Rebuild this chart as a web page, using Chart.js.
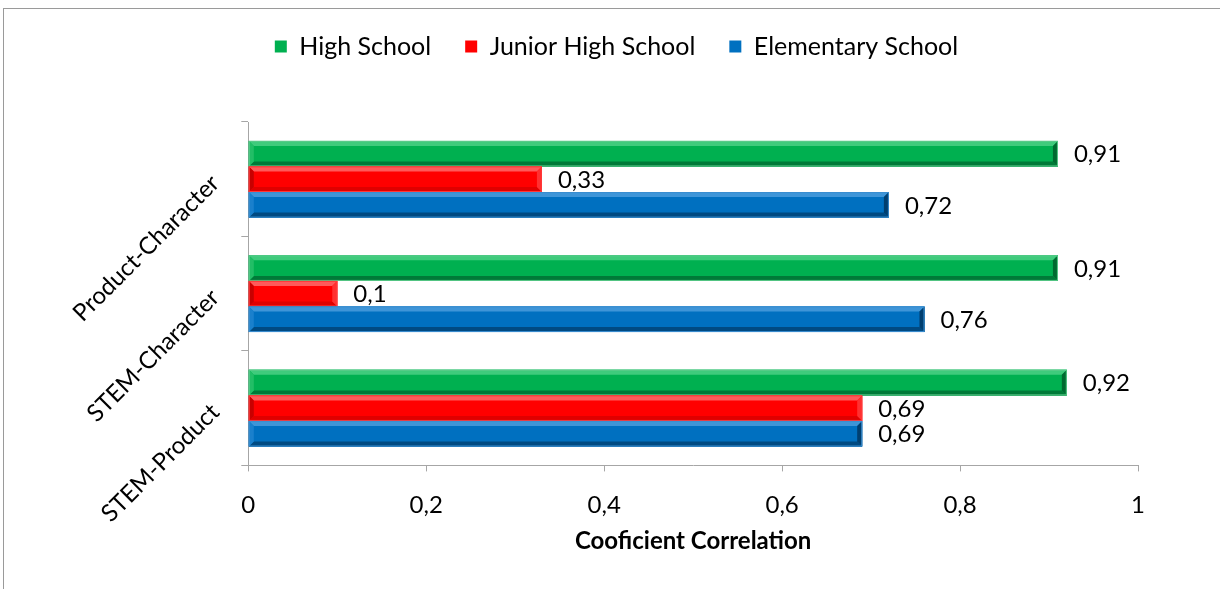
<!DOCTYPE html>
<html>
<head>
<meta charset="utf-8">
<script src="https://cdn.jsdelivr.net/npm/chart.js@4/dist/chart.umd.min.js"></script>
<style>
  html, body { margin: 0; padding: 0; background: #ffffff; }
  #wrap { width: 1220px; height: 589px; }
</style>
</head>
<body>
<div id="wrap"><canvas id="chart" width="1220" height="589"></canvas></div>
<script>
// Correlation pairs, listed top to bottom
const categories = ['Product-Character', 'STEM-Character', 'STEM-Product'];

// Correlation coefficient per school level
const highSchool = [0.91, 0.91, 0.92];
const juniorHighSchool = [0.33, 0.1, 0.69];
const elementarySchool = [0.72, 0.76, 0.69];

const seriesNames = ['High School', 'Junior High School', 'Elementary School'];
const xTickLabels = ['0', '0,2', '0,4', '0,6', '0,8', '1'];

const FONT = 'Lato, "Liberation Sans", sans-serif';
const FONT_SIZE = 24;
const LEGEND_FONT_SIZE = 25;
const LEGEND_HEIGHT = 122;
const LEGEND_SHIFT = 32;

// Shading for the bevelled bars: face, light edge, dark edge, outline
const bevelColors = [
  { face: '#00B050', light: '#3FCB7C', left: '#22BE66', dark: '#007A38', right: '#006A30', line: '#5ACB8A' },
  { face: '#FF0000', light: '#FF5A5A', left: '#C80000', dark: '#E00000', right: '#FF3030', line: '#FF3A3A' },
  { face: '#0070C0', light: '#3E95D8', left: '#1A80CC', dark: '#004A82', right: '#003F70', line: '#3A8ED0' }
];

function fmt(v) {
  return String(v).replace('.', ',');
}

// Fixed legend block height, and the legend row nudged to the right
const legendLayoutPlugin = {
  id: 'legendLayout',
  beforeInit(chart) {
    const legend = chart.legend;
    if (!legend) return;
    const fit = legend.fit;
    legend.fit = function () {
      fit.call(this);
      this.height = LEGEND_HEIGHT;
    };
  },
  afterLayout(chart) {
    const legend = chart.legend;
    if (!legend) return;
    legend.left += LEGEND_SHIFT;
    legend.right += LEGEND_SHIFT;
  }
};

// Frame around the whole chart
const framePlugin = {
  id: 'frame',
  beforeDraw(chart) {
    const ctx = chart.ctx;
    ctx.save();
    ctx.fillStyle = '#ffffff';
    ctx.fillRect(0, 0, chart.width, chart.height);
    ctx.strokeStyle = '#9a9a9a';
    ctx.lineWidth = 1;
    ctx.strokeRect(3.5, 8.5, chart.width + 20, chart.height + 20);
    ctx.restore();
  }
};

// Bevel shading on each bar, using the bar elements laid out by the scales
const bevelPlugin = {
  id: 'bevel',
  afterDatasetsDraw(chart) {
    const ctx = chart.ctx;
    chart.data.datasets.forEach((ds, di) => {
      const meta = chart.getDatasetMeta(di);
      const c = bevelColors[di];
      meta.data.forEach((bar) => {
        const x0 = Math.min(bar.base, bar.x);
        const x1 = Math.max(bar.base, bar.x);
        const y0 = bar.y - bar.height / 2;
        const y1 = bar.y + bar.height / 2;
        const w = x1 - x0;
        const h = y1 - y0;
        const b = Math.min(5, w / 2, h / 2);
        ctx.save();
        ctx.fillStyle = c.face;
        ctx.fillRect(x0, y0, w, h);
        // top edge
        ctx.fillStyle = c.light;
        ctx.beginPath();
        ctx.moveTo(x0, y0); ctx.lineTo(x1, y0); ctx.lineTo(x1 - b, y0 + b); ctx.lineTo(x0 + b, y0 + b);
        ctx.closePath(); ctx.fill();
        // bottom edge
        ctx.fillStyle = c.dark;
        ctx.beginPath();
        ctx.moveTo(x0, y1); ctx.lineTo(x1, y1); ctx.lineTo(x1 - b, y1 - b); ctx.lineTo(x0 + b, y1 - b);
        ctx.closePath(); ctx.fill();
        // left edge
        ctx.fillStyle = c.left;
        ctx.beginPath();
        ctx.moveTo(x0, y0); ctx.lineTo(x0 + b, y0 + b); ctx.lineTo(x0 + b, y1 - b); ctx.lineTo(x0, y1);
        ctx.closePath(); ctx.fill();
        // right edge
        ctx.fillStyle = c.right;
        ctx.beginPath();
        ctx.moveTo(x1, y0); ctx.lineTo(x1 - b, y0 + b); ctx.lineTo(x1 - b, y1 - b); ctx.lineTo(x1, y1);
        ctx.closePath(); ctx.fill();
        // outline
        ctx.strokeStyle = c.line;
        ctx.lineWidth = 1;
        ctx.strokeRect(x0 + 0.5, y0 + 0.5, w - 1, h - 1);
        ctx.restore();
      });
    });
  }
};

// Value labels to the right of each bar
const valueLabelPlugin = {
  id: 'valueLabels',
  afterDatasetsDraw(chart) {
    const ctx = chart.ctx;
    ctx.save();
    ctx.font = FONT_SIZE + 'px ' + FONT;
    ctx.fillStyle = '#000000';
    ctx.textAlign = 'left';
    ctx.textBaseline = 'middle';
    chart.data.datasets.forEach((ds, di) => {
      const meta = chart.getDatasetMeta(di);
      meta.data.forEach((bar, i) => {
        ctx.fillText(fmt(ds.data[i]), bar.x + 16, bar.y + 1);
      });
    });
    ctx.restore();
  }
};

new Chart(document.getElementById('chart'), {
  type: 'bar',
  data: {
    labels: categories,
    datasets: [
      { label: seriesNames[0], data: highSchool, backgroundColor: bevelColors[0].face },
      { label: seriesNames[1], data: juniorHighSchool, backgroundColor: bevelColors[1].face },
      { label: seriesNames[2], data: elementarySchool, backgroundColor: bevelColors[2].face }
    ]
  },
  options: {
    indexAxis: 'y',
    responsive: false,
    animation: false,
    devicePixelRatio: 1,
    categoryPercentage: 0.67,
    barPercentage: 1.0,
    layout: { padding: { left: 31, right: 82, top: 0, bottom: 33 } },
    plugins: {
      legend: {
        position: 'top',
        labels: {
          font: { family: FONT, size: LEGEND_FONT_SIZE },
          color: '#000000',
          boxWidth: 12,
          boxHeight: 12,
          padding: 34
        }
      },
      tooltip: { enabled: false }
    },
    scales: {
      x: {
        min: 0,
        max: 1,
        ticks: {
          stepSize: 0.2,
          color: '#000000',
          font: { family: FONT, size: FONT_SIZE },
          padding: 19,
          callback: (v, i) => xTickLabels[i]
        },
        grid: { drawOnChartArea: false, tickLength: 6, color: '#a6a6a6' },
        border: { display: true, color: '#a6a6a6', width: 1 },
        title: {
          display: true,
          text: 'Cooficient Correlation',
          color: '#000000',
          font: { family: FONT, size: FONT_SIZE, weight: 'bold' },
          padding: { top: -11, bottom: 0 }
        }
      },
      y: {
        ticks: {
          color: '#000000',
          font: { family: FONT, size: FONT_SIZE },
          minRotation: 45,
          maxRotation: 45,
          padding: 26
        },
        grid: { drawOnChartArea: false, offset: true, tickLength: 7, color: '#a6a6a6' },
        border: { display: true, color: '#a6a6a6', width: 1 }
      }
    }
  },
  plugins: [legendLayoutPlugin, framePlugin, bevelPlugin, valueLabelPlugin]
});
</script>
</body>
</html>
